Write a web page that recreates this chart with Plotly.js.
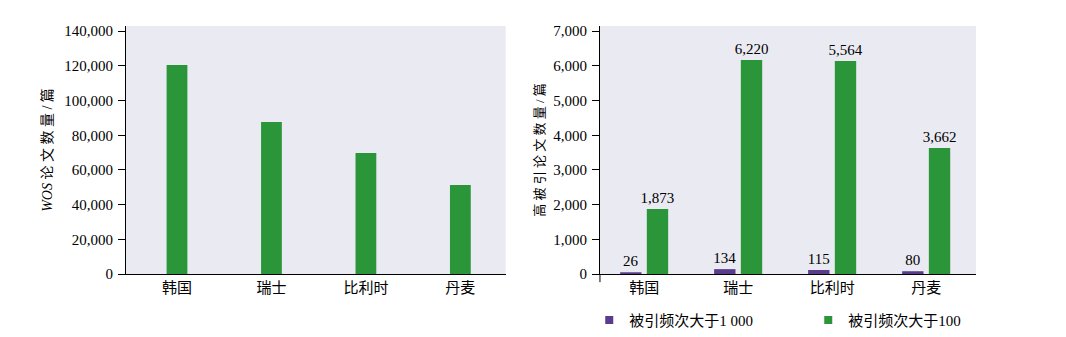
<!DOCTYPE html>
<html>
<head>
<meta charset="utf-8">
<script src="https://cdn.plot.ly/plotly-3.0.1.min.js"></script>
<style>html,body{margin:0;padding:0;background:#fff;}</style>
</head>
<body>
<div id="chart" style="width:1066px;height:337px;"></div>
<script>
// ---- data ----
var countries = ['韩国', '瑞士', '比利时', '丹麦'];
var wosPapers = [120500, 87600, 69700, 51300];
var cited1000 = [50, 140, 115, 80];
var cited100 = [1873, 6170, 6140, 3630];
var cited1000Labels = ['26', '134', '115', '80'];
var cited100Labels = ['1,873', '6,220', '5,564', '3,662'];
var seriesNames = ['被引频次大于1 000', '被引频次大于100'];
var leftTitle = '<i>WOS</i> 论 文 数 量 / 篇';
var rightTitle = '高 被 引 论 文 数 量 / 篇';

var GREEN = '#2b9639';
var PURPLE = '#5b3b8c';
var FONT = 'Liberation Serif, Noto Sans CJK SC, serif';

var traces = [
  {type: 'bar', x: countries, y: wosPapers, xaxis: 'x', yaxis: 'y',
   marker: {color: GREEN}, width: 0.22, showlegend: false, hoverinfo: 'skip'},
  {type: 'bar', x: countries, y: cited1000, xaxis: 'x2', yaxis: 'y2',
   name: seriesNames[0], marker: {color: PURPLE}, showlegend: false,
   text: cited1000Labels, textposition: 'outside', cliponaxis: false,
   constraintext: 'none', textfont: {family: FONT, size: 15, color: '#000'}},
  {type: 'bar', x: countries, y: cited100, xaxis: 'x2', yaxis: 'y2',
   name: seriesNames[1], marker: {color: GREEN}, showlegend: false,
   text: cited100Labels, textposition: 'outside', cliponaxis: false,
   constraintext: 'none', textfont: {family: FONT, size: 15, color: '#000'}},
  // legend proxies
  {type: 'scatter', mode: 'markers', x: [null], y: [null], xaxis: 'x2', yaxis: 'y2',
   name: seriesNames[0], marker: {color: PURPLE, symbol: 'square', size: 8}},
  {type: 'scatter', mode: 'markers', x: [null], y: [null], xaxis: 'x2', yaxis: 'y2',
   name: seriesNames[1], marker: {color: GREEN, symbol: 'square', size: 8}}
];

var yCommon = {
  showgrid: false, zeroline: false, showline: true, linecolor: '#000', linewidth: 1,
  ticks: 'outside', ticklen: 7, tickcolor: '#000', tickwidth: 1,
  tickfont: {family: FONT, size: 15, color: '#000'}, ticklabelstandoff: 2
};
var xCommon = {
  type: 'category', showgrid: false, zeroline: false, showline: true,
  linecolor: '#000', linewidth: 1, ticks: '',
  tickfont: {family: FONT, size: 15, color: '#000'}
};

var layout = {
  width: 1066, height: 337,
  margin: {l: 126, r: 90, t: 26, b: 63},
  paper_bgcolor: '#ffffff', plot_bgcolor: '#eaeaf2',
  font: {family: FONT, color: '#000'},
  barmode: 'group', bargap: 0.432, bargroupgap: 0.2,
  xaxis: Object.assign({}, xCommon, {domain: [0, 0.4467], range: [-0.54, 3.48], anchor: 'y'}),
  yaxis: Object.assign({}, yCommon, {range: [0, 143000], dtick: 20000, tickformat: ',d', anchor: 'x',
    title: {text: leftTitle, font: {family: FONT, size: 14, color: '#000'}, standoff: 8}}),
  xaxis2: Object.assign({}, xCommon, {domain: [0.5576, 1], range: [-0.47, 3.53], anchor: 'y2'}),
  yaxis2: Object.assign({}, yCommon, {range: [0, 7150], dtick: 1000, tickformat: ',d', anchor: 'x2',
    title: {text: rightTitle, font: {family: FONT, size: 13, color: '#000'}, standoff: 5}}),
  shapes: [
    {type: 'line', xref: 'x2 domain', yref: 'y2 domain', x0: 0, x1: 0, y0: 0, y1: -0.033,
     line: {color: '#000', width: 1}}
  ],
  showlegend: true,
  legend: {orientation: 'h', x: 0.545, xanchor: 'left', yref: 'container', y: 0.05, yanchor: 'middle',
    entrywidth: 174, entrywidthmode: 'pixels', itemwidth: 30,
    font: {family: FONT, size: 15, color: '#000'}, bgcolor: 'rgba(0,0,0,0)'}
};

Plotly.newPlot('chart', traces, layout, {displayModeBar: false, staticPlot: true});
</script>
</body>
</html>
